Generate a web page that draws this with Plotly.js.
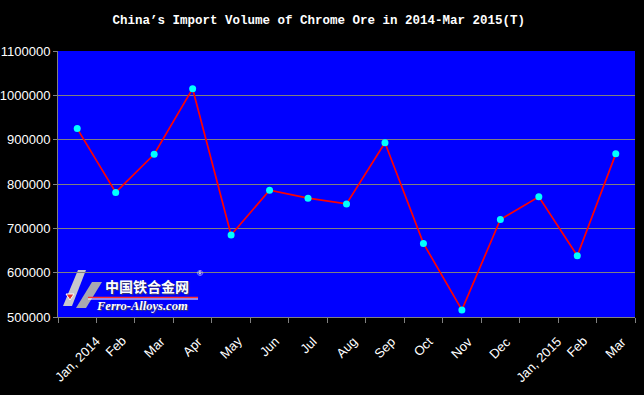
<!DOCTYPE html>
<html>
<head>
<meta charset="utf-8">
<script src="https://cdn.plot.ly/plotly-3.0.1.min.js"></script>
<style>html,body{margin:0;padding:0;background:#000;}#chart{width:644px;height:395px;}</style>
</head>
<body>
<div id="chart"></div>
<script>
// ---- data ----
const monthLabels = ['Jan, 2014','Feb','Mar','Apr','May','Jun','Jul','Aug','Sep','Oct','Nov','Dec','Jan, 2015','Feb','Mar'];
const importVolume = [925000, 781000, 867000, 1015000, 685000, 786000, 768000, 755000, 893000, 666000, 516000, 720000, 771000, 638000, 868000];
const yTickValues = [500000, 600000, 700000, 800000, 900000, 1000000, 1100000];
const chartTitle = 'China’s Import Volume of Chrome Ore in 2014-Mar 2015(T)';
const logoCn = '中国铁合金网';
const logoEn = 'Ferro-Alloys.com';

// ---- layout helpers ----
const W = 644, H = 395;
const M = {l: 58, r: 9, t: 51, b: 78};
const PW = W - M.l - M.r, PH = H - M.t - M.b;
const px = x => (x - M.l) / PW;
const py = y => (H - M.b - y) / PH;

const idx = monthLabels.map((_, i) => i);
const boundaries = monthLabels.map((_, i) => i - 0.5).concat([monthLabels.length - 0.5]);

const trace = {
  x: idx,
  y: importVolume,
  type: 'scatter',
  mode: 'lines+markers',
  line: {color: '#FF0000', width: 1.7},
  marker: {color: '#00FFFF', size: 7, symbol: 'circle'},
  hoverinfo: 'y'
};

const annotations = monthLabels.map((m, i) => ({
  x: i, xref: 'x', y: py(331), yref: 'paper',
  text: m, showarrow: false, textangle: -45,
  xanchor: 'center', yanchor: 'top',
  font: {family: 'Liberation Sans, Arial, sans-serif', size: 13, color: '#FFFFFF'}
}));

// watermark logo (decorative text)
annotations.push({
  x: px(147), y: py(286), xref: 'paper', yref: 'paper', showarrow: false,
  text: logoCn, xanchor: 'center', yanchor: 'middle', borderpad: 0,
  font: {family: 'Noto Sans CJK SC', size: 14, color: '#FFFFFF', weight: 700, shadow: '1px 1px 1px #404060'}
});
annotations.push({
  x: px(142), y: py(306), xref: 'paper', yref: 'paper', showarrow: false,
  text: logoEn, xanchor: 'center', yanchor: 'middle', borderpad: 0,
  font: {family: 'Liberation Serif, serif', size: 12.5, color: '#FFFFFF', weight: 700, style: 'italic', shadow: '1px 1px 1px #404060'}
});
annotations.push({
  x: px(200), y: py(273), xref: 'paper', yref: 'paper', showarrow: false,
  text: '®', xanchor: 'center', yanchor: 'middle', borderpad: 0,
  font: {family: 'Liberation Sans, sans-serif', size: 8, color: '#FFFFFF'}
});

const poly = pts => 'M ' + pts.map(p => px(p[0]) + ',' + py(p[1])).join(' L ') + ' Z';
const shapes = [
  {type: 'path', xref: 'paper', yref: 'paper', path: poly([[63,306],[78,270],[86,270],[72,306]]), fillcolor: '#C8C8CC', line: {width: 0}, layer: 'below'},
  {type: 'path', xref: 'paper', yref: 'paper', path: poly([[76,308],[92,282],[102,282],[86,308]]), fillcolor: '#A8A8B0', line: {width: 0}, layer: 'below'},
  {type: 'path', xref: 'paper', yref: 'paper', path: poly([[66,294],[74,294],[70,300]]), fillcolor: '#E03030', line: {color: '#FFFFFF', width: 1}, layer: 'below'},
  {type: 'line', xref: 'paper', yref: 'paper', x0: px(88), x1: px(198), y0: py(297.5), y1: py(297.5), line: {color: '#FF3030', width: 1.5}, layer: 'below'},
  {type: 'line', xref: 'paper', yref: 'paper', x0: px(88), x1: px(198), y0: py(299), y1: py(299), line: {color: '#FFFFFF', width: 1}, layer: 'below'}
];

const layout = {
  width: W, height: H,
  margin: M,
  paper_bgcolor: '#000000',
  plot_bgcolor: '#0000FF',
  showlegend: false,
  title: {
    text: chartTitle, x: 0.495, xref: 'container', xanchor: 'center',
    y: 1 - 20 / H, yref: 'container', yanchor: 'middle',
    font: {family: 'Liberation Mono, monospace', size: 12.5, color: '#FFFFFF', weight: 700}
  },
  xaxis: {
    range: [-0.5, monthLabels.length - 0.5],
    tickmode: 'array', tickvals: boundaries, ticktext: boundaries.map(() => ''),
    showticklabels: false, showgrid: false, zeroline: false,
    showline: true, linecolor: '#808080', linewidth: 1,
    ticks: 'outside', ticklen: 5, tickcolor: '#808080', fixedrange: true
  },
  yaxis: {
    range: [500000, 1100000],
    tickmode: 'array', tickvals: yTickValues, ticktext: yTickValues.map(v => String(v)),
    showgrid: true, gridcolor: '#808080', gridwidth: 1, zeroline: false,
    showline: true, linecolor: '#808080', linewidth: 1,
    ticks: 'outside', ticklen: 4, tickcolor: '#808080',
    tickfont: {family: 'Liberation Sans, Arial, sans-serif', size: 13, color: '#FFFFFF'},
    fixedrange: true
  },
  annotations: annotations,
  shapes: shapes
};

Plotly.newPlot('chart', [trace], layout, {displayModeBar: false, staticPlot: true});
</script>
</body>
</html>
